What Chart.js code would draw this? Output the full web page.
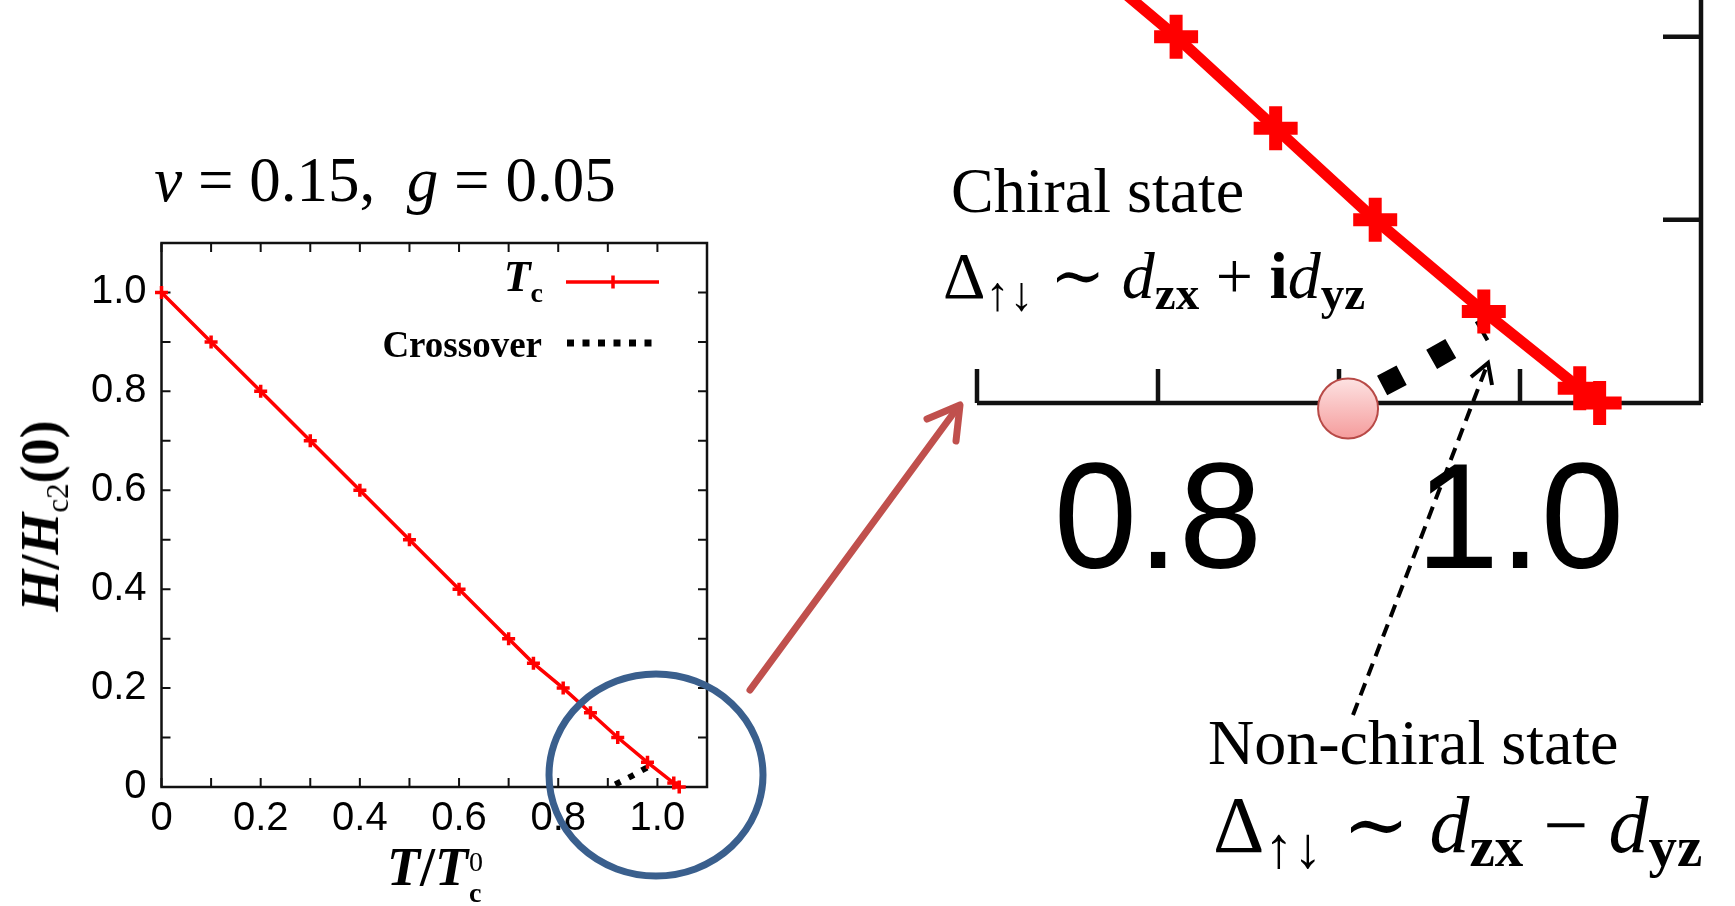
<!DOCTYPE html>
<html>
<head>
<meta charset="utf-8">
<title>Tc phase diagram</title>
<script src="https://cdn.jsdelivr.net/npm/chart.js@4.4.1/dist/chart.umd.min.js"></script>
<style>
  html, body { margin: 0; padding: 0; background: #fff; }
  #page { position: relative; width: 1735px; height: 906px; overflow: hidden; background: #fff; }
  canvas { position: absolute; }
  #mainChart { left: 0; top: 200px; }
  #zoomChart { left: 900px; top: 0; }
  .txt { position: absolute; white-space: nowrap; line-height: 1; color: #000;
         font-family: 'Liberation Serif', 'DejaVu Serif', serif; }
  .lo { position: relative; }
  #overlay { position: absolute; left: 0; top: 0; pointer-events: none; }
</style>
</head>
<body>
<div id="page">
  <canvas id="mainChart" width="780" height="706"></canvas>
  <canvas id="zoomChart" width="835" height="620"></canvas>

  <!-- left panel: title, axis titles, legend text -->
  <div class="txt" style="left:385px; top:149px; font-size:63px; transform:translateX(-50%);"><i>ν</i> = 0.15,&nbsp;&nbsp;<i>g</i> = 0.05</div>
  <div class="txt" style="left:40px; top:516px; font-size:54px; font-weight:bold; transform:translate(-50%,-50%) rotate(-90deg);"><i>H</i>/<i>H</i><span class="lo" style="font-size:31px; top:10px; font-weight:normal;">c2</span>(0)</div>
  <div class="txt" style="left:436px; top:840px; font-size:54px; font-weight:bold; transform:translateX(-50%);"><i>T</i>/<i>T</i><span style="display:inline-block; position:relative; width:17px; height:0;"><span style="position:absolute; left:1px; top:-37px; font-size:28px; font-weight:normal;">0</span><span style="position:absolute; left:1px; top:-6px; font-size:28px;">c</span></span></div>
  <div class="txt" style="right:1192px; top:255px; font-size:44px; font-weight:bold;"><i>T</i><span class="lo" style="font-size:28px; top:11px;">c</span></div>
  <div class="txt" style="right:1193px; top:326px; font-size:37px; font-weight:bold;">Crossover</div>

  <!-- right panel annotations -->
  <div class="txt" style="left:951px; top:159px; font-size:64px;">Chiral state</div>
  <div class="txt" style="left:943px; top:243px; font-size:66px;">Δ<span class="lo" style="font-size:48px; top:12px;">↑↓</span> ∼ <i>d</i><span class="lo" style="font-size:47px; top:11px; font-weight:bold;">zx</span> + <b>i</b><i>d</i><span class="lo" style="font-size:47px; top:11px; font-weight:bold;">yz</span></div>
  <div class="txt" style="left:1208px; top:711px; font-size:64px;">Non-chiral state</div>
  <div class="txt" style="left:1213px; top:785px; font-size:80px;">Δ<span class="lo" style="font-size:58px; top:15px;">↑↓</span> ∼ <i>d</i><span class="lo" style="font-size:57px; top:14px; font-weight:bold;">zx</span> − <i>d</i><span class="lo" style="font-size:57px; top:14px; font-weight:bold;">yz</span></div>

  <svg id="overlay" width="1735" height="906">
    <ellipse cx="656" cy="775" rx="107" ry="101" fill="none" stroke="#3a5f8d" stroke-width="7"/>
    <g stroke="#c0504d" stroke-width="7" stroke-linecap="round" stroke-linejoin="round" fill="none">
      <line x1="750" y1="690" x2="958" y2="407"/>
      <polyline points="927,419 960,405 956,441"/>
    </g>
    <g stroke="#000" stroke-width="4" fill="none">
      <line x1="1353" y1="715" x2="1486" y2="368" stroke-dasharray="13 8"/>
      <polyline points="1471,377 1488,363 1492,385"/>
    </g>
  </svg>
</div>

<script>
// ===== DATA =====
// Tc line: T/Tc0 against H/Hc2(0)
const tcT = [0, 0.1, 0.2, 0.3, 0.4, 0.5, 0.6, 0.7, 0.75, 0.81, 0.865, 0.92, 0.98, 1.033, 1.044];
const tcH = [1.0, 0.9, 0.8, 0.7, 0.6, 0.5, 0.4, 0.3, 0.25, 0.2, 0.15, 0.1, 0.05, 0.008, 0];

// crossover between chiral and non-chiral states
const crossT = [0.915, 0.948, 0.98];
const crossH = [0.005, 0.022, 0.04];

// point where the crossover leaves the H = 0 axis
const critT = [0.905];
const critH = [-0.003];

// tick labels
const mainTickLabels = ['0', '0.2', '0.4', '0.6', '0.8', '1.0'];
const zoomTickLabels = ['0.8', '1.0'];
const zoomYTicks = [0.1, 0.2];

const RED = '#ff0000';
Chart.defaults.font.family = "'Liberation Sans', Arial, sans-serif";

const pts = (xs, ys) => xs.map((x, i) => ({ x, y: ys[i] }));
const pickLabel = list => v => list.find(s => Math.abs(parseFloat(s) - v) < 1e-6) || '';

// ===== LEFT PANEL =====
// frame with inward ticks on all four sides, plus the legend samples
const mainFrame = {
  id: 'mainFrame',
  beforeDatasetsDraw(chart) {
    const { ctx, chartArea: a, scales: { x, y } } = chart;
    const tick = 9;
    ctx.save();
    ctx.strokeStyle = '#111';
    ctx.lineWidth = 2.5;
    ctx.strokeRect(a.left, a.top, a.right - a.left, a.bottom - a.top);
    ctx.lineWidth = 2;
    ctx.beginPath();
    x.ticks.forEach(t => {
      const px = x.getPixelForValue(t.value);
      ctx.moveTo(px, a.bottom); ctx.lineTo(px, a.bottom - tick);
      ctx.moveTo(px, a.top); ctx.lineTo(px, a.top + tick);
    });
    y.ticks.forEach(t => {
      const py = y.getPixelForValue(t.value);
      ctx.moveTo(a.left, py); ctx.lineTo(a.left + tick, py);
      ctx.moveTo(a.right, py); ctx.lineTo(a.right - tick, py);
    });
    ctx.stroke();
    ctx.restore();
  },
  afterDraw(chart) {
    const { ctx, chartArea: a } = chart;
    ctx.save();
    // Tc sample
    const ly = a.top + 39;
    ctx.strokeStyle = RED;
    ctx.lineWidth = 3.5;
    ctx.beginPath();
    ctx.moveTo(a.right - 141, ly); ctx.lineTo(a.right - 48, ly);
    const mx = a.right - 94;
    ctx.moveTo(mx - 6.5, ly); ctx.lineTo(mx + 6.5, ly);
    ctx.moveTo(mx, ly - 6.5); ctx.lineTo(mx, ly + 6.5);
    ctx.stroke();
    // crossover sample
    const cy = a.top + 100;
    ctx.strokeStyle = '#000';
    ctx.lineWidth = 7;
    ctx.setLineDash([7, 8.5]);
    ctx.beginPath();
    ctx.moveTo(a.right - 140, cy); ctx.lineTo(a.right - 55, cy);
    ctx.stroke();
    ctx.restore();
  }
};

new Chart(document.getElementById('mainChart'), {
  type: 'line',
  data: {
    datasets: [
      {
        label: 'Tc',
        data: pts(tcT, tcH),
        borderColor: RED,
        backgroundColor: RED,
        borderWidth: 3.5,
        pointStyle: 'cross',
        pointRadius: 6.5,
        pointBorderWidth: 3.5,
        pointBorderColor: RED,
        clip: false
      },
      {
        label: 'Crossover',
        data: pts(crossT, crossH),
        borderColor: '#000',
        borderWidth: 6,
        borderDash: [6, 9],
        pointRadius: 0,
        clip: false
      }
    ]
  },
  options: {
    responsive: false,
    animation: false,
    events: [],
    layout: { autoPadding: false, padding: { top: 43, right: 73, left: 0, bottom: 0 } },
    plugins: { legend: { display: false }, tooltip: { enabled: false } },
    scales: {
      x: {
        type: 'linear', min: 0, max: 1.1,
        afterFit: s => { s.height = 119; },
        grid: { display: false, drawTicks: false },
        border: { display: false },
        ticks: {
          stepSize: 0.1, autoSkip: false, maxRotation: 0, padding: 8, color: '#000',
          font: { size: 40 }, callback: pickLabel(mainTickLabels)
        }
      },
      y: {
        type: 'linear', min: 0, max: 1.1,
        afterFit: s => { s.width = 161.5; },
        grid: { display: false, drawTicks: false },
        border: { display: false },
        ticks: {
          stepSize: 0.1, autoSkip: false, padding: 15, color: '#000',
          font: { size: 40 }, callback: pickLabel(mainTickLabels)
        }
      }
    }
  },
  plugins: [mainFrame]
});

// ===== RIGHT PANEL (close-up near T/Tc0 = 1) =====
const zoomAxes = {
  id: 'zoomAxes',
  beforeDatasetsDraw(chart) {
    const { ctx, chartArea: a, scales: { x, y } } = chart;
    const y0 = y.getPixelForValue(0);
    const tick = 34;
    ctx.save();
    ctx.strokeStyle = '#111';
    ctx.lineWidth = 4.5;
    ctx.beginPath();
    ctx.moveTo(a.left, y0); ctx.lineTo(a.right, y0);
    ctx.moveTo(a.right, 0); ctx.lineTo(a.right, y0);
    x.ticks.forEach(t => {
      const px = x.getPixelForValue(t.value);
      if (px < a.right - 1) { ctx.moveTo(px, y0); ctx.lineTo(px, y0 - tick); }
    });
    zoomYTicks.forEach(v => {
      const py = y.getPixelForValue(v);
      ctx.moveTo(a.right, py); ctx.lineTo(a.right - tick - 4, py);
    });
    ctx.stroke();
    ctx.restore();
  }
};

new Chart(document.getElementById('zoomChart'), {
  type: 'line',
  data: {
    datasets: [
      {
        label: 'critical point',
        data: pts(critT, critH),
        showLine: false,
        pointStyle: 'circle',
        pointRadius: 30,
        pointBorderWidth: 2,
        pointBorderColor: '#b84a47',
        pointBackgroundColor: c => {
          const chart = c.chart;
          if (!chart.chartArea) return '#f8b8b8';
          const py = chart.scales.y.getPixelForValue(critH[0]);
          const g = chart.ctx.createLinearGradient(0, py - 30, 0, py + 30);
          g.addColorStop(0, '#fde2e2');
          g.addColorStop(1, '#f59c9c');
          return g;
        },
        clip: false
      },
      {
        label: 'Tc',
        data: pts(tcT, tcH),
        borderColor: RED,
        backgroundColor: RED,
        borderWidth: 11,
        pointStyle: 'cross',
        pointRadius: 22,
        pointBorderWidth: 13,
        pointBorderColor: RED,
        clip: false
      },
      {
        label: 'Crossover',
        data: pts(crossT, crossH),
        borderColor: '#000',
        borderWidth: 22,
        borderDash: [22, 34],
        borderDashOffset: 38,
        pointRadius: 0,
        clip: false
      }
    ]
  },
  options: {
    responsive: false,
    animation: false,
    events: [],
    layout: { autoPadding: false, padding: { top: 0, right: 25, left: 0, bottom: 0 } },
    plugins: { legend: { display: false }, tooltip: { enabled: false } },
    scales: {
      x: {
        type: 'linear', min: 0.7, max: 1.1,
        afterFit: s => { s.height = 217; },
        grid: { display: false, drawTicks: false },
        border: { display: false },
        ticks: {
          stepSize: 0.1, autoSkip: false, maxRotation: 0, padding: 34, color: '#000',
          font: { size: 150 }, callback: pickLabel(zoomTickLabels)
        }
      },
      y: {
        type: 'linear', min: 0, max: 0.22,
        afterFit: s => { s.width = 77; s.paddingTop = 0; s.paddingBottom = 0; },
        grid: { display: false, drawTicks: false },
        border: { display: false },
        ticks: { display: false }
      }
    }
  },
  plugins: [zoomAxes]
});
</script>
</body>
</html>
